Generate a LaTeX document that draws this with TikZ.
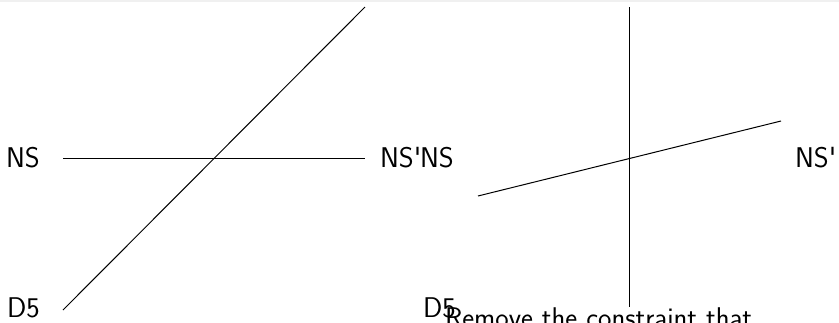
\documentclass[tikz,border=0pt]{standalone}
\usepackage{fontspec}
\setsansfont{Latin Modern Sans}
\renewcommand{\familydefault}{\sfdefault}
\begin{document}
\begin{tikzpicture}[x=1pt,y=-1pt,
  lbl/.style={inner sep=0pt,outer sep=0pt,anchor=base west,font=\sffamily\fontsize{28.5}{32}\selectfont},
  ln/.style={line width=1pt,black}]
\useasboundingbox (0,0) rectangle (839,322);
\fill[gray!12] (0,0) rectangle (839,2);
% left diagram
\coordinate (hA) at (63,158);
\coordinate (hB) at (365,158);
\coordinate (dA) at (63,310);
\coordinate (dB) at (365,7);
\draw[ln] (hA) -- (hB);
\draw[ln] (dA) -- (dB);
\node[lbl] (nsL) at (6,167) {NS};
\node[lbl] (nspL) at (380,167) {NS\textquotesingle};
\node[lbl] (d5L) at (7,317) {D5};
% right diagram
\coordinate (vA) at (629,7);
\coordinate (vB) at (629,307);
\coordinate (sA) at (478,196);
\coordinate (sB) at (781,121);
\draw[ln] (vA) -- (vB);
\draw[ln] (sA) -- (sB);
\node[lbl] (nsR) at (420,167) {NS};
\node[lbl] (nspR) at (795,167) {NS\textquotesingle};
\node[lbl] (d5R) at (423,317) {D5};
\node[lbl] (rem) at (445,327) {Remove the constraint that};
\end{tikzpicture}
\end{document}
